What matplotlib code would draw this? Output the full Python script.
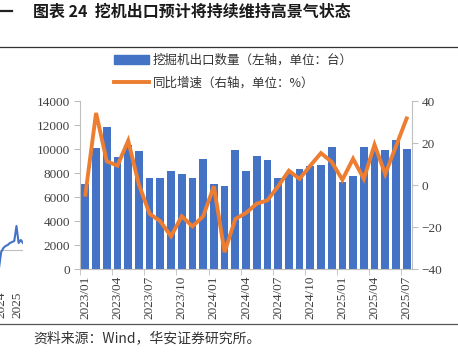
import numpy as np
import matplotlib.pyplot as plt
from matplotlib import font_manager
from matplotlib.lines import Line2D
from matplotlib.patches import Patch

plt.rcParams['font.family'] = ['Noto Sans CJK SC', 'DejaVu Sans']

# monthly data, 2023/01 - 2025/07
months = ['%d/%02d' % (y, m) for y in (2023, 2024, 2025) for m in range(1, 13)][:31]
exports = [7100, 10080, 11800, 9360, 10300, 9800, 7600, 7550, 8170, 7900, 7550, 9200,
           7080, 6890, 9890, 8140, 9420, 9080, 7560, 8000, 8330, 8610, 8690, 10170,
           7220, 7780, 10190, 9850, 9920, 10780, 9960]
yoy = [-4.6, 34.3, 11.3, 9.2, 21.1, 0.2, -13.7, -17.3, -24.4, -14.9, -19.7, -14.9,
       -0.6, -32.0, -16.2, -13.3, -8.9, -7.3, -0.6, 6.8, 2.9, 9.2, 15.2, 11.0,
       2.5, 12.5, 2.9, 19.2, 5.2, 18.4, 31.7]

# fragment of the previous chart cut off at the left edge
frag_vals = [2, 18, 22, 24, 25, 27, 28, 29, 44, 27, 30, 27]
frag_labels = ['2024', '2025']

blue = '#4472C4'
orange = '#ED7D31'
grey = '#BFBFBF'
txt = '#404040'
try:
    font_manager.findfont('Liberation Serif', fallback_to_default=False)
    serif = 'Liberation Serif'
except Exception:
    serif = 'DejaVu Serif'

W, H = 458, 355
fig = plt.figure(figsize=(W / 100, H / 100), dpi=100)

ax = fig.add_axes([80 / W, 86 / H, 332 / W, 168 / H])
x = np.arange(len(months))
ax.bar(x, exports, width=0.72, color=blue, zorder=2)
ax.set_xlim(-0.5, len(months) - 0.5)
ax.set_ylim(0, 14000)
ax.set_yticks(range(0, 14001, 2000))

ax2 = ax.twinx()
ax2.plot(x, yoy, color=orange, lw=2.8, solid_joinstyle='miter', zorder=3)
ax2.set_ylim(-40, 40)
ax2.set_yticks(range(-40, 41, 20))

# labels at bar centres, tick marks between categories
ax.set_xticks(x[::3])
ax.set_xticklabels(months[::3], rotation=90)
ax.set_xticks(x[::3] - 0.5, minor=True)
ax.tick_params(axis='x', which='major', length=0, pad=5, labelsize=9.5,
               labelcolor=txt, labelfontfamily=serif)
ax.tick_params(axis='x', which='minor', length=4, color=grey)
for a in (ax, ax2):
    a.tick_params(axis='y', length=4, color=grey, labelsize=9.5, labelcolor=txt, pad=3,
                  labelfontfamily=serif)
    a.spines['top'].set_visible(False)
    for s in ('left', 'right', 'bottom'):
        a.spines[s].set_color(grey)
ax.spines['right'].set_visible(False)
ax2.spines['left'].set_visible(False)
ax2.spines['bottom'].set_visible(False)

handles = [Patch(color=blue), Line2D([], [], color=orange, lw=2.8)]
fig.legend(handles, ['挖掘机出口数量（左轴，单位：台）', '同比增速（右轴，单位：%）'],
           loc='upper left', bbox_to_anchor=(114 / W, 1 - 54 / H), frameon=False,
           fontsize=9, borderpad=0, borderaxespad=0, handlelength=2.8,
           handleheight=0.8, handletextpad=0.3, labelspacing=0.75, labelcolor='#333333')

# fragment of the neighbouring chart
fa = fig.add_axes([-1 / W, 85 / H, 24 / W, 50 / H])
fa.plot(range(len(frag_vals)), frag_vals, color=blue, lw=1.5)
fa.set_xlim(0, len(frag_vals) - 1)
fa.set_ylim(0, 50)
fa.axis('off')
fa.axhline(20, color=grey, lw=0.8, zorder=0)
for i, lab in enumerate(frag_labels):
    fig.text((1 + 16 * i) / W, 1 - 305 / H, lab, rotation=90, ha='center', va='center',
             fontfamily=serif, fontsize=9.5, color=txt)

fig.text(33 / W, 1 - 12 / H, '图表 24  挖机出口预计将持续维持高景气状态',
         fontsize=11.5, fontweight='bold', va='center', color='#1a1a1a')
fig.text(33 / W, 1 - 338 / H, '资料来源：Wind，华安证券研究所。',
         fontsize=10, va='center', color='#333333')
fig.add_artist(Line2D([0, 12 / W], [1 - 11 / H] * 2, color='#222222', lw=1.6))
fig.add_artist(Line2D([0, 1], [1 - 47 / H] * 2, color='#333333', lw=0.9))
fig.add_artist(Line2D([0, 1], [1 - 324 / H] * 2, color='#555555', lw=0.9))

plt.savefig('out.png', dpi=100)
